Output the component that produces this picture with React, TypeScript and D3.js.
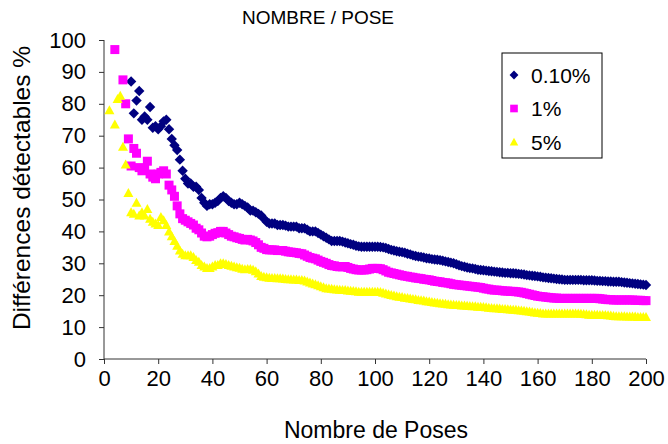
import React, { useEffect, useRef } from 'react';
import * as d3 from 'd3';

// Nombre de poses: 2 .. 200
const poses: number[] = d3.range(2, 201);

// 0.10% (values listed from x = 2)
const serie010: (number | null)[] = [
  null, null, null, null, null, null, null, null, 87,
  77, 81, 84, 75, 76, 75, 79, 72.5, 73, 72,
  73, 74.5, 75, 72, 69, 67, 65.5, 62.5, 59, 56.5,
  55, 55, 54, 54, 53, 50.5, 49, 48, 48.5, 48.5,
  49, 49.5, 50.5, 51, 50.5, 49.5, 49, 48.5, 48.5, 49,
  48.5, 48, 47.5, 46.5, 46.5, 46, 45.5, 45, 44, 43,
  42.5, 42.5, 42.5, 42, 42, 42, 41.8, 41.5, 41.5, 41.5,
  41.5, 41, 41, 41, 40.5, 40, 40, 40, 39.5, 39,
  38.5, 38, 37.5, 37, 37, 37, 37, 36.8, 36.5, 36.3,
  36, 35.8, 35.5, 35.3, 35.2, 35.2, 35.2, 35.2, 35.2, 35.2,
  35.2, 35.1, 35, 34.8, 34.5, 34.2, 34, 33.8, 33.6, 33.5,
  33.3, 33, 32.8, 32.5, 32.3, 32.1, 32, 31.8, 31.6, 31.5,
  31.3, 31.2, 31.1, 31, 30.8, 30.6, 30.4, 30.2, 30, 29.7,
  29.4, 29.1, 28.9, 28.7, 28.5, 28.4, 28.2, 28, 27.9, 27.8,
  27.7, 27.6, 27.5, 27.4, 27.3, 27.2, 27.1, 27, 27, 26.9,
  26.9, 26.8, 26.7, 26.6, 26.5, 26.3, 26.2, 26.1, 26, 25.9,
  25.8, 25.6, 25.5, 25.4, 25.3, 25.2, 25.1, 25, 24.9, 24.8,
  24.8, 24.8, 24.8, 24.8, 24.8, 24.8, 24.7, 24.7, 24.7, 24.7,
  24.6, 24.5, 24.5, 24.4, 24.4, 24.3, 24.3, 24.2, 24.2, 24.2,
  24.1, 24, 23.9, 23.8, 23.7, 23.6, 23.5, 23.4, 23.3, 23.2,
];

// 1%
const serie1: (number | null)[] = [
  null, null, 97, null, null, 87.5, 80, 69, 60.5,
  66, 64.5, 60, 59, 59.5, 62, 58, 57, 56.5, 58,
  58.5, 59, 58, 54.5, 53, 51, 48, 45.5, 44, 43.5,
  43, 42.5, 42, 41, 40.5, 39.5, 38.5, 38.3, 38.5, 39,
  39.4, 39.6, 40, 40, 39.5, 39, 38.5, 38.3, 38, 37.8,
  37.5, 37.3, 37.5, 37.3, 37, 36.5, 35.8, 35, 34.7, 34.3,
  34.2, 34.2, 34.2, 34, 34, 34, 33.8, 33.6, 33.5, 33.4,
  33.3, 33.1, 33, 32.6, 32.2, 31.8, 31.6, 31.4, 31, 30.6,
  30.3, 30, 29.6, 29.3, 29.2, 29, 28.9, 28.9, 29, 28.7,
  28.4, 28.2, 28, 27.9, 27.9, 27.9, 28, 28.2, 28.4, 28.4,
  28.4, 28.3, 28, 27.6, 27.2, 27, 26.8, 26.6, 26.4, 26.2,
  26, 25.9, 25.7, 25.6, 25.4, 25.3, 25.2, 25, 24.9, 24.8,
  24.6, 24.4, 24.3, 24.2, 24, 23.9, 23.8, 23.6, 23.4, 23.3,
  23.2, 23.1, 23, 22.9, 22.8, 22.7, 22.6, 22.5, 22.4, 22.2,
  22, 21.9, 21.7, 21.6, 21.6, 21.5, 21.4, 21.3, 21.3, 21.2,
  21.2, 21.1, 21, 20.9, 20.7, 20.5, 20.3, 20.1, 19.9, 19.7,
  19.6, 19.5, 19.4, 19.3, 19.2, 19.1, 19.1, 19, 19, 19,
  19, 19, 19, 19, 19, 19, 19, 19, 19, 19,
  19, 19, 18.9, 18.8, 18.7, 18.6, 18.6, 18.5, 18.5, 18.5,
  18.5, 18.5, 18.5, 18.5, 18.5, 18.4, 18.4, 18.4, 18.3, 18.3,
];

// 5%
const serie5: (number | null)[] = [
  78, null, 73.5, 81.5, 82.5, 66.5, 61, 52, 46,
  45.5, 49, 45, 46, 45, 47, 44, 43, 42.5, 42,
  44.5, 43.5, 42, 40, 38.5, 37, 35.5, 34, 33, 32.5,
  32.5, 32.5, 32, 31, 30.5, 29.5, 29, 28.5, 28.5, 29,
  29.5, 29.5, 30, 30, 29.8, 29.5, 29.2, 29, 28.8, 28.6,
  28.3, 28.1, 28.2, 28.2, 28, 27.5, 26.8, 26, 25.8, 25.6,
  25.5, 25.4, 25.4, 25.3, 25.3, 25.2, 25.1, 25, 25, 24.9,
  24.9, 24.8, 24.8, 24.6, 24.3, 24, 23.7, 23.4, 23.1, 22.8,
  22.5, 22.2, 22.1, 22, 21.9, 21.8, 21.7, 21.6, 21.6, 21.5,
  21.4, 21.3, 21.2, 21.1, 21.1, 21.1, 21.1, 21.1, 21.1, 21.1,
  21.1, 21, 20.8, 20.5, 20.3, 20.1, 19.9, 19.7, 19.5, 19.4,
  19.2, 19.1, 19, 18.8, 18.7, 18.5, 18.4, 18.3, 18.1, 18,
  17.9, 17.7, 17.6, 17.5, 17.4, 17.3, 17.2, 17.1, 17, 16.9,
  16.9, 16.8, 16.8, 16.7, 16.6, 16.5, 16.5, 16.4, 16.4, 16.3,
  16.2, 16.1, 16, 15.9, 15.9, 15.8, 15.7, 15.7, 15.6, 15.5,
  15.4, 15.4, 15.3, 15.2, 15.1, 15, 14.9, 14.7, 14.6, 14.5,
  14.4, 14.3, 14.3, 14.3, 14.3, 14.3, 14.3, 14.3, 14.3, 14.3,
  14.3, 14.3, 14.3, 14.3, 14.3, 14.2, 14.1, 14, 13.9, 13.9,
  13.9, 13.9, 13.8, 13.8, 13.8, 13.7, 13.6, 13.5, 13.4, 13.4,
  13.4, 13.4, 13.3, 13.3, 13.3, 13.3, 13.2, 13.2, 13.2, 13.2,
];

const seriesNames = ['0.10%', '1%', '5%'];
const seriesColors = ['#000080', '#ff00ff', '#ffff00'];
const seriesShapes = ['diamond', 'square', 'triangle'];
const xTicks = [0, 20, 40, 60, 80, 100, 120, 140, 160, 180, 200];
const yTicks = [0, 10, 20, 30, 40, 50, 60, 70, 80, 90, 100];

const FONT = 'Liberation Sans, Arial, sans-serif';

function shapePath(kind: string) {
  if (kind === 'diamond') return 'M0,-5.2L5.2,0L0,5.2L-5.2,0Z';
  if (kind === 'square') return 'M-4.5,-4.5H4.5V4.5H-4.5Z';
  return 'M0,-5L5,4H-5Z';
}

export default function App() {
  const svgRef = useRef<SVGSVGElement>(null);

  useEffect(() => {
    if (!svgRef.current) return;
    const svg = d3.select(svgRef.current);
    svg.selectAll('*').remove();

    const left = 104, right = 646, top = 40, bottom = 359;
    const x = d3.scaleLinear().domain([0, 200]).range([left, right]);
    const y = d3.scaleLinear().domain([0, 100]).range([bottom, top]);

    // title
    svg.append('text')
      .attr('x', 318).attr('y', 24)
      .attr('text-anchor', 'middle')
      .style('font-family', FONT).style('font-size', '19px')
      .text('NOMBRE / POSE');

    // axes
    const yAxis = svg.append('g')
      .attr('transform', `translate(${left},0)`)
      .call(d3.axisLeft(y).tickValues(yTicks).tickSize(5).tickPadding(13));
    const xAxis = svg.append('g')
      .attr('transform', `translate(0,${bottom})`)
      .call(d3.axisBottom(x).tickValues(xTicks).tickSize(5).tickPadding(6));
    [yAxis, xAxis].forEach((ax) => {
      ax.select('.domain').remove();
      ax.selectAll('line').attr('stroke', '#333');
      ax.selectAll('text')
        .style('font-family', FONT).style('font-size', '22px').attr('fill', '#000');
    });
    svg.append('line').attr('x1', left).attr('x2', left).attr('y1', top).attr('y2', bottom).attr('stroke', '#333');
    svg.append('line').attr('x1', left).attr('x2', right).attr('y1', bottom).attr('y2', bottom).attr('stroke', '#333');

    // axis titles
    svg.append('text')
      .attr('transform', `translate(30,188) rotate(-90)`)
      .attr('text-anchor', 'middle')
      .style('font-family', FONT).style('font-size', '24.5px')
      .text('Différences détectables %');
    svg.append('text')
      .attr('x', 376).attr('y', 438)
      .attr('text-anchor', 'middle')
      .style('font-family', FONT).style('font-size', '23px')
      .text('Nombre de Poses');

    // markers
    const allSeries = [serie010, serie1, serie5];
    allSeries.forEach((vals, si) => {
      const pts = poses
        .map((p, i) => ({ p, v: vals[i] }))
        .filter((d) => d.v !== null && d.v !== undefined);
      svg.append('g')
        .selectAll('path')
        .data(pts)
        .enter()
        .append('path')
        .attr('transform', (d) => `translate(${x(d.p)},${y(d.v as number)})`)
        .attr('d', shapePath(seriesShapes[si]))
        .attr('fill', seriesColors[si]);
    });

    // legend
    const lg = svg.append('g').attr('transform', 'translate(502,53)');
    lg.append('rect').attr('width', 100).attr('height', 105)
      .attr('fill', '#fff').attr('stroke', '#000').attr('stroke-width', 1);
    seriesNames.forEach((name, i) => {
      const cy = 22 + i * 33.5;
      lg.append('path')
        .attr('transform', `translate(12,${cy}) scale(0.85)`)
        .attr('d', shapePath(seriesShapes[i]))
        .attr('fill', seriesColors[i]);
      lg.append('text')
        .attr('x', 29).attr('y', cy + 7.5)
        .style('font-family', FONT).style('font-size', '21px')
        .text(name);
    });
  }, []);

  return (
    <svg
      ref={svgRef}
      width={668}
      height={444}
      style={{ position: 'absolute', left: 0, top: 0, background: '#fff' }}
    />
  );
}
